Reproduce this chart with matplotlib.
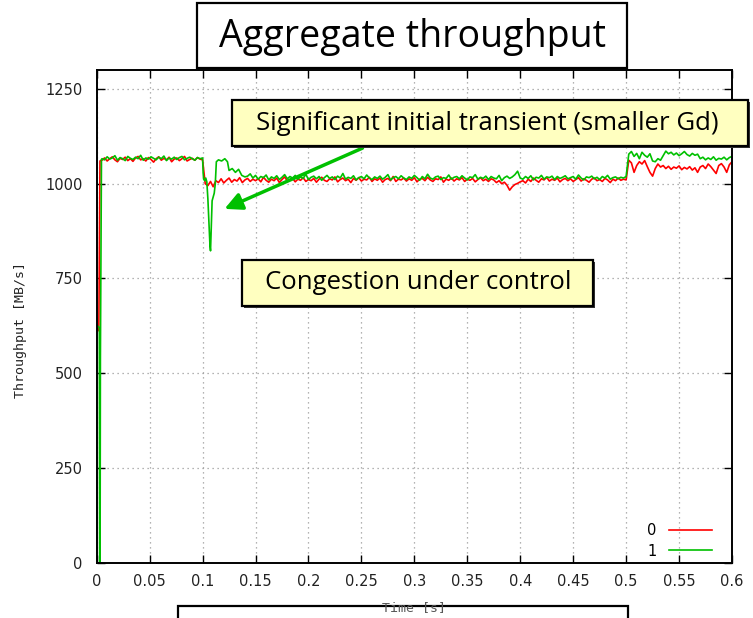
import numpy as np
import matplotlib
matplotlib.use("Agg")
import matplotlib.pyplot as plt
from matplotlib.patches import Rectangle, FancyArrowPatch

# ---------------- data ----------------
title_text = "Aggregate throughput"
note_transient = "Significant initial transient (smaller Gd)"
note_control = "Congestion under control"
series_labels = ["0", "1"]
x_label = "Time [s]"
y_label = "Throughput [MB/s]"
xtick_values = [0, 0.05, 0.1, 0.15, 0.2, 0.25, 0.3, 0.35, 0.4, 0.45, 0.5, 0.55, 0.6]
xtick_labels = ["0", "0.05", "0.1", "0.15", "0.2", "0.25", "0.3", "0.35", "0.4", "0.45", "0.5", "0.55", "0.6"]
ytick_values = [0, 250, 500, 750, 1000, 1250]

# start-up samples
red_start_t = [0.0, 0.002, 0.0031, 0.0045]
red_start_v = [622, 612, 1060, 1062]
green_start_t = [0.0, 0.0025, 0.0028, 0.0032, 0.0035, 0.0045]
green_start_v = [628, 620, 0, 0, 540, 1064]

# plateau before 0.1 s (0.005 .. 0.1)
red_pre = [1062, 1068, 1060, 1066, 1071, 1063, 1058, 1067, 1064, 1070, 1061, 1066, 1059, 1068,
           1072, 1063, 1066, 1060, 1069, 1064, 1057, 1066, 1071, 1062, 1067, 1063, 1070, 1058,
           1065, 1068, 1061, 1066, 1072, 1060, 1064, 1067, 1062, 1069, 1065, 1063]
green_pre = [1066, 1063, 1071, 1065, 1068, 1074, 1062, 1069, 1066, 1061, 1072, 1067, 1064, 1070,
             1066, 1075, 1062, 1068, 1065, 1071, 1067, 1063, 1070, 1066, 1073, 1061, 1068, 1065,
             1070, 1064, 1069, 1072, 1063, 1067, 1070, 1066, 1062, 1069, 1066, 1068]

# green transient after 0.1 s
green_tr_t = [0.1005, 0.101, 0.102, 0.103, 0.104, 0.105, 0.106, 0.107, 0.1075, 0.108, 0.109,
              0.110, 0.111, 0.112, 0.113, 0.115, 0.118, 0.121, 0.1235, 0.125, 0.128, 0.131,
              0.134, 0.137, 0.140]
green_tr_v = [1030, 1012, 1008, 1015, 1005, 960, 900, 835, 823, 870, 955, 965, 975, 1000, 1058,
              1063, 1060, 1066, 1058, 1035, 1040, 1030, 1038, 1022, 1018]

# middle section (red 0.1025 .. 0.5, green 0.1425 .. 0.5)
red_mid = [1000, 995, 1006, 992, 1008, 1003, 1013, 1002, 1009, 1015, 1004, 1011, 1007, 1016, 1003, 1010, 1014, 1006, 1012, 1008,
           1013, 1005, 1017, 1009, 1004, 1012, 1008, 1015, 1003, 1011, 1018, 1007, 1010, 1014, 1005, 1012, 1009, 1016, 1006, 1011,
           1008, 1014, 1004, 1012, 1017, 1009, 1006, 1013, 1010, 1018, 1005, 1011, 1015, 1008, 1012, 1003, 1014, 1009, 1016, 1007,
           1012, 1010, 1017, 1006, 1013, 1009, 1015, 1004, 1011, 1014, 1008, 1019, 1006, 1012, 1010, 1015, 1007, 1013, 1009, 1016,
           1005, 1012, 1014, 1008, 1017, 1010, 1006, 1013, 1011, 1018, 1004, 1012, 1009, 1015, 1007, 1013, 1010, 1016, 1006, 1012,
           1009, 1014, 1005, 1011, 1016, 1008, 1012, 1006, 1013, 1010, 1003, 1008, 1000, 1004, 996, 983, 992, 998, 1001, 1005,
           1008, 1002, 1012, 1006, 1015, 1009, 1004, 1013, 1010, 1017, 1007, 1012, 1009, 1015, 1005, 1011, 1014, 1008, 1013, 1006,
           1011, 1016, 1007, 1013, 1009, 1004, 1012, 1015, 1008, 1011, 1006, 1014, 1010, 1003, 1012, 1008, 1015, 1009, 1012, 1010]
green_mid = [1020, 1026, 1015, 1022, 1012, 1019, 1016, 1023, 1010, 1018, 1014, 1021, 1011, 1017, 1024, 1013, 1019, 1015, 1022, 1012,
             1018, 1014, 1025, 1011, 1017, 1020, 1013, 1019, 1009, 1016, 1022, 1014, 1018, 1011, 1020, 1015, 1027, 1012, 1017, 1014,
             1021, 1010, 1016, 1019, 1013, 1023, 1015, 1011, 1018, 1014, 1020, 1012, 1017, 1024, 1010, 1016, 1019, 1013, 1021, 1015,
             1011, 1018, 1014, 1022, 1016, 1009, 1019, 1013, 1025, 1015, 1012, 1018, 1020, 1011, 1016, 1014, 1023, 1012, 1017, 1019,
             1013, 1021, 1015, 1010, 1018, 1016, 1024, 1012, 1017, 1014, 1020, 1011, 1019, 1015, 1013, 1022, 1008, 1016, 1020, 1014,
             1018, 1024, 1033, 1015, 1012, 1019, 1014, 1021, 1010, 1017, 1015, 1022, 1012, 1018, 1016, 1020, 1011, 1019, 1014, 1017,
             1021, 1013, 1016, 1019, 1012, 1023, 1015, 1010, 1018, 1016, 1020, 1013, 1017, 1011, 1019, 1015, 1022, 1012, 1016, 1018,
             1013, 1017, 1015, 1019]

# after 0.5 s (0.5025 .. 0.6)
red_post = [1062, 1055, 1030, 1048, 1058, 1052, 1061, 1045, 1030, 1020, 1040, 1052, 1044, 1048, 1040, 1046, 1038, 1044, 1041, 1047,
            1037, 1043, 1039, 1045, 1036, 1042, 1030, 1044, 1048, 1040, 1052, 1045, 1036, 1027, 1048, 1053, 1044, 1030, 1050, 1058]
green_post = [1078, 1085, 1072, 1080, 1066, 1083, 1075, 1070, 1079, 1060, 1058, 1066, 1062, 1074, 1086, 1079, 1083, 1076, 1081, 1074,
              1079, 1085, 1077, 1073, 1080, 1075, 1078, 1066, 1070, 1063, 1068, 1064, 1071, 1062, 1067, 1065, 1070, 1063, 1069, 1072]

# ---------------- assemble series ----------------
red_t = np.concatenate([red_start_t,
                        np.linspace(0.005, 0.1, len(red_pre)),
                        np.linspace(0.1025, 0.5, len(red_mid)),
                        np.linspace(0.5025, 0.6, len(red_post))])
red_v = np.concatenate([red_start_v, red_pre, red_mid, red_post])
green_t = np.concatenate([green_start_t,
                          np.linspace(0.005, 0.1, len(green_pre)),
                          green_tr_t,
                          np.linspace(0.1425, 0.5, len(green_mid)),
                          np.linspace(0.5025, 0.6, len(green_post))])
green_v = np.concatenate([green_start_v, green_pre, green_tr_v, green_mid, green_post])

# ---------------- figure ----------------
W, H = 753, 618
fig = plt.figure(figsize=(W / 100, H / 100), dpi=100)

def fx(px):
    return px / W

def fy(py):
    return 1 - py / H

L, R, T, B = 96.7, 732, 70, 562.8
ax = fig.add_axes([fx(L), fy(B), fx(R) - fx(L), fy(T) - fy(B)])

ax.plot(red_t, red_v, color="#ff0000", lw=1.2, label=series_labels[0])
ax.plot(green_t, green_v, color="#00c000", lw=1.2, label=series_labels[1])

ax.set_xlim(0, 0.6)
ax.set_ylim(0, 1300)
ax.set_xticks(xtick_values)
ax.set_xticklabels(xtick_labels)
ax.set_yticks(ytick_values)
ax.tick_params(direction="in", length=6, width=1, top=True, right=True,
               labelsize=10.5, colors="black", pad=8)
ax.tick_params(axis="y", pad=10)
for lab in ax.get_xticklabels() + ax.get_yticklabels():
    lab.set_color("#222222")
ax.grid(True, linestyle=(0, (1, 3)), color="#9a9a9a", lw=0.9)
for s in ax.spines.values():
    s.set_linewidth(1.4)
    s.set_color("black")

mono = "DejaVu Sans Mono"
ax.set_ylabel(y_label, fontsize=9.5, family=mono, color="#222222")
ax.yaxis.set_label_coords((27 - L) / (R - L), (B - 330) / (B - T))
ax.set_xlabel(x_label, fontsize=9.5, family=mono, color="#555555")
ax.xaxis.set_label_coords(0.5, -(601 - B) / (B - T))

leg = ax.legend(loc="lower right", frameon=False, markerfirst=False, handlelength=3.0,
                fontsize=10.5, bbox_to_anchor=(0.985, -0.012), labelspacing=0.35,
                handletextpad=0.8, borderaxespad=0.3)

# ---------------- title box ----------------
fig.patches.append(Rectangle((fx(197), fy(68)), fx(627) - fx(197), fy(3) - fy(68),
                             transform=fig.transFigure, facecolor="white",
                             edgecolor="black", lw=1.6, zorder=5))
fig.text(fx(413), fy(37), title_text, ha="center", va="center", fontsize=27,
         family="Open Sans", color="black", zorder=6)

# ---------------- yellow note boxes ----------------
def note_box(x0, y0, x1, y1, text, tx):
    fig.patches.append(Rectangle((fx(x0 + 2), fy(y1 + 2)), fx(x1) - fx(x0), fy(y0) - fy(y1),
                                 transform=fig.transFigure, facecolor="#333333",
                                 edgecolor="none", zorder=5))
    fig.patches.append(Rectangle((fx(x0), fy(y1)), fx(x1) - fx(x0), fy(y0) - fy(y1),
                                 transform=fig.transFigure, facecolor="#ffffc0",
                                 edgecolor="black", lw=1.6, zorder=6))
    fig.text(fx(tx), fy((y0 + y1) / 2), text, ha="center", va="center", fontsize=18.5,
             family="Open Sans", color="black", zorder=7)

note_box(232, 100, 748, 146, note_transient, 487)
note_box(242, 260, 593, 306, note_control, 418)

arrow = FancyArrowPatch((fx(365), fy(147)), (fx(222), fy(210)), transform=fig.transFigure,
                        arrowstyle="-|>", mutation_scale=26, color="#00c000", lw=2.5,
                        zorder=4)
fig.patches.append(arrow)

# ---------------- bottom (cut-off) box, drawn beneath the axis label ----------------
fig.patches.append(Rectangle((fx(178), fy(640)), fx(628) - fx(178), fy(606) - fy(640),
                             transform=fig.transFigure, facecolor="white",
                             edgecolor="black", lw=1.6, zorder=-1))

fig.savefig("out.png", dpi=100)
